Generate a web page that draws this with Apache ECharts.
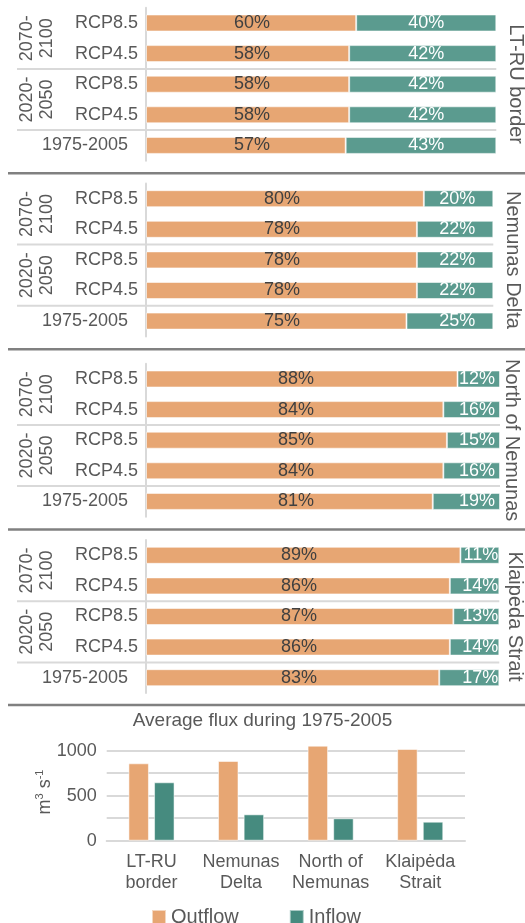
<!DOCTYPE html>
<html><head><meta charset="utf-8">
<script src="https://cdn.jsdelivr.net/npm/echarts@6/dist/echarts.min.js"></script>
<style>html,body{margin:0;padding:0;background:#fff}#c{width:525px;height:923px}</style>
</head><body><div id="c"></div>
<script>
// ---- data ----
const rowLabels = ['RCP8.5', 'RCP4.5', 'RCP8.5', 'RCP4.5', '1975-2005'];
const periodGroups = ['2070-\n2100', '2020-\n2050'];
const panelNames = ['LT-RU border', 'Nemunas Delta', 'North of Nemunas', 'Klaipėda Strait'];
const outflowLTRU = [60, 58, 58, 58, 57];
const inflowLTRU = [40, 42, 42, 42, 43];
const outflowDelta = [80, 78, 78, 78, 75];
const inflowDelta = [20, 22, 22, 22, 25];
const outflowNorth = [88, 84, 85, 84, 81];
const inflowNorth = [12, 16, 15, 16, 19];
const outflowKlaipeda = [89, 86, 87, 86, 83];
const inflowKlaipeda = [11, 14, 13, 14, 17];
const fluxTitle = 'Average flux during 1975-2005';
const fluxCategories = ['LT-RU\nborder', 'Nemunas\nDelta', 'North of\nNemunas', 'Klaipėda\nStrait'];
const fluxOutflow = [860, 886, 1056, 1019];
const fluxInflow = [649, 293, 249, 211];
const fluxTickLabels = [0, 500, 1000];
const seriesNames = ['Outflow', 'Inflow'];

// ---- styles / layout ----
const FONT = "'Liberation Sans', Arial, sans-serif";
const TXT = '#595959';
const OUT_TOP = '#E7A673', IN_TOP = '#5B9B8F';
const OUT_BOT = '#E7A673', IN_BOT = '#468B7F';
const panelOut = [outflowLTRU, outflowDelta, outflowNorth, outflowKlaipeda];
const panelIn = [inflowLTRU, inflowDelta, inflowNorth, inflowKlaipeda];
const layout = [
  {top: 7.7, right: 28.7, outOff: 106, inDist: 52, nameX: 516},
  {top: 183.4, right: 31.7, outOff: 136, inDist: 18, nameX: 512.5},
  {top: 363.7, right: 25, outOff: 150, inDist: 5, nameX: 512},
  {top: 540, right: 25.7, outOff: 153, inDist: 1, nameX: 515}
];
const panelRules = [173.3, 349.3, 529.5, 705];

const chart = echarts.init(document.getElementById('c'), null, {renderer: 'canvas'});
const grids = [], xAxes = [], yAxes = [], series = [];
const rowIdx = rowLabels.map((_, i) => String(i));

layout.forEach((L, k) => {
  grids.push({left: 146, right: L.right, top: L.top, height: 153});
  xAxes.push({gridIndex: k, type: 'value', min: 0, max: 100, show: false});
  yAxes.push({
    gridIndex: k, type: 'category', inverse: true, data: rowIdx,
    axisLine: {show: true, lineStyle: {color: '#d9d9d9', width: 2}},
    axisTick: {show: false}, splitLine: {show: false},
    axisLabel: {
      fontSize: 18, color: TXT, fontFamily: FONT, margin: 8,
      formatter: (v, i) => i === rowLabels.length - 1 ? '{p|' + rowLabels[i] + '}' : rowLabels[i],
      rich: {p: {fontSize: 18, color: TXT, fontFamily: FONT, padding: [0, 10, 0, 0]}}
    }
  });
  series.push({
    name: 'top-out-' + k, type: 'bar', stack: 's' + k, xAxisIndex: k, yAxisIndex: k,
    data: panelOut[k], barWidth: 17,
    itemStyle: {color: OUT_TOP, borderColor: 'rgba(255,255,255,0.55)', borderWidth: 1},
    label: {show: true, formatter: '{c}%', position: [L.outOff, '50%'], align: 'center',
      verticalAlign: 'middle', fontSize: 18, color: '#404040', fontFamily: FONT},
    emphasis: {disabled: true}
  });
  series.push({
    name: 'top-in-' + k, type: 'bar', stack: 's' + k, xAxisIndex: k, yAxisIndex: k,
    data: panelIn[k], barWidth: 17,
    itemStyle: {color: IN_TOP, borderColor: 'rgba(255,255,255,0.55)', borderWidth: 1},
    label: {show: true, formatter: '{c}%', position: 'insideRight', distance: L.inDist,
      fontSize: 18, color: '#ffffff', fontFamily: FONT},
    emphasis: {disabled: true}
  });
});

// bottom flux chart
grids.push({left: 106.7, right: 60, top: 750.7, height: 90});
xAxes.push({
  gridIndex: 4, type: 'category', data: fluxCategories,
  axisLine: {show: true, lineStyle: {color: '#d9d9d9', width: 2}},
  axisTick: {show: false},
  axisLabel: {fontSize: 18, color: TXT, fontFamily: FONT, lineHeight: 21.7, margin: 10, interval: 0}
});
yAxes.push({
  gridIndex: 4, type: 'value', min: 0, max: 1000, interval: 250,
  axisLine: {show: false}, axisTick: {show: false},
  splitLine: {lineStyle: {color: '#d9d9d9', width: 2}},
  axisLabel: {fontSize: 18, color: TXT, fontFamily: FONT, margin: 10,
    formatter: v => fluxTickLabels.includes(v) ? String(v) : ''}
});
series.push({
  name: seriesNames[0], type: 'bar', xAxisIndex: 4, yAxisIndex: 4, data: fluxOutflow,
  barWidth: 20.5, barGap: '25%', clip: false,
  itemStyle: {color: OUT_BOT, borderColor: 'rgba(255,255,255,0.55)', borderWidth: 1},
  emphasis: {disabled: true}
});
series.push({
  name: seriesNames[1], type: 'bar', xAxisIndex: 4, yAxisIndex: 4, data: fluxInflow,
  barWidth: 20.5, barGap: '25%', clip: false,
  itemStyle: {color: IN_BOT, borderColor: 'rgba(255,255,255,0.55)', borderWidth: 1},
  emphasis: {disabled: true}
});

chart.setOption({
  animation: false,
  textStyle: {fontFamily: FONT},
  title: {text: fluxTitle, left: 'center', top: 711, padding: 0,
    textStyle: {fontSize: 19, color: TXT, fontWeight: 'normal', fontFamily: FONT}},
  legend: {
    data: seriesNames, left: 151, top: 907, icon: 'rect', itemWidth: 14, itemHeight: 14,
    itemGap: 50, padding: 0, selectedMode: false,
    textStyle: {fontSize: 20, color: TXT, fontFamily: FONT}
  },
  grid: grids, xAxis: xAxes, yAxis: yAxes, series: series
});

// ---- annotations (group labels, separators, panel names, unit) ----
const graphics = [];
panelRules.forEach(y => graphics.push({
  type: 'line', shape: {x1: 8, y1: y, x2: 525, y2: y}, style: {stroke: '#808080', lineWidth: 2.5}, silent: true
}));
layout.forEach((L, k) => {
  const yc = i => chart.convertToPixel({yAxisIndex: k}, i);
  const xr = 525 - L.right;
  [[1, 2], [3, 4]].forEach(([a, b]) => {
    const y = (yc(a) + yc(b)) / 2;
    graphics.push({type: 'line', shape: {x1: 17, y1: y, x2: xr, y2: y},
      style: {stroke: '#d9d9d9', lineWidth: 2}, silent: true});
  });
  periodGroups.forEach((g, gi) => {
    const y = (yc(gi * 2) + yc(gi * 2 + 1)) / 2;
    graphics.push({type: 'text', x: 36.7, y: y, rotation: Math.PI / 2, silent: true,
      style: {text: g, fontSize: 18, lineHeight: 20, fill: TXT, fontFamily: FONT, align: 'center', verticalAlign: 'middle'}});
  });
  graphics.push({type: 'text', x: L.nameX, y: yc(2), rotation: -Math.PI / 2, silent: true,
    style: {text: panelNames[k], fontSize: 20, fill: TXT, fontFamily: FONT, align: 'center', verticalAlign: 'middle'}});
});
graphics.push({type: 'text', x: 45, y: 792, rotation: Math.PI / 2, silent: true,
  style: {text: '{a|m}{s|3}{a| s}{s|-1}', align: 'center', verticalAlign: 'middle',
    rich: {a: {fontSize: 18, fill: TXT, fontFamily: FONT, lineHeight: 22},
           s: {fontSize: 11, fill: TXT, fontFamily: FONT, verticalAlign: 'top', lineHeight: 22}}}});
chart.setOption({graphic: graphics});
</script></body></html>
